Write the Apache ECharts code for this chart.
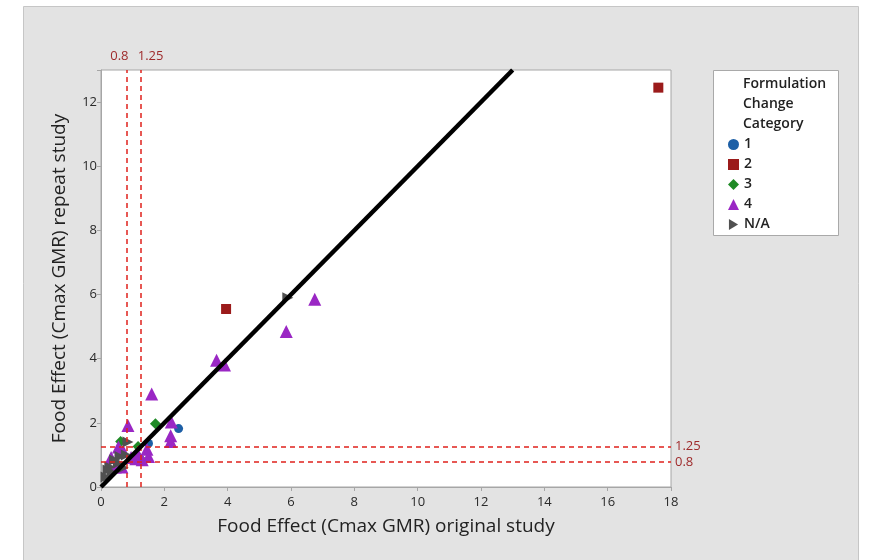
<!DOCTYPE html>
<html>
<head>
<meta charset="utf-8">
<script src="https://cdn.jsdelivr.net/npm/echarts@6/dist/echarts.min.js"></script>
<style>
  html, body { margin: 0; padding: 0; background: #ffffff; }
  #chart { width: 869px; height: 560px; }
</style>
</head>
<body>
<div id="chart"></div>
<script>
// Food effect Cmax GMR: original study vs repeat study, by formulation change category
const categoryNames = ['1', '2', '3', '4', 'N/A'];

const cat1Points = [[2.45, 1.82], [1.5, 1.36]];
const cat2Points = [[17.6, 12.45], [3.95, 5.55]];
const cat3Points = [[1.72, 1.97], [0.62, 1.42], [1.17, 1.26], [1.23, 0.9]];
const cat4Points = [
  [6.75, 5.85], [5.85, 4.85], [3.65, 3.95], [3.9, 3.8], [1.6, 2.9],
  [0.85, 1.92], [2.22, 2.03], [2.2, 1.6], [2.2, 1.42], [0.55, 1.25],
  [0.7, 1.12], [1.15, 1.05], [1.45, 1.18], [1.5, 0.95], [1.3, 0.85],
  [0.95, 0.92], [0.32, 0.92], [0.45, 0.62], [0.66, 0.62], [1.1, 0.88]
];
const naPoints = [
  [5.9, 5.9], [0.85, 1.4], [0.8, 1.0], [0.43, 0.84], [0.22, 0.53],
  [0.16, 0.31], [0.28, 0.62], [0.7, 0.6], [0.35, 0.45], [0.55, 0.75],
  [0.6, 0.95]
];

// bioequivalence limits and identity line
const limitValues = [0.8, 1.25];
const identityLine = [[0, 0], [13, 13]];

const xTicks = { min: 0, max: 18, interval: 2 };
const yTicks = { min: 0, max: 13, interval: 2 };

const FONT = '"Open Sans", "Noto Sans", sans-serif';
const colors = ['#1d5fa6', '#9b1b1b', '#1f8a26', '#9a27c4', '#505050'];
const arrowPath = 'path://M0,0 L10,6 L0,12 Z';
const symbols = ['circle', 'rect', 'diamond', 'triangle', arrowPath];
const sizes = [9, 10, 11, 13, 11];
const pointSets = [cat1Points, cat2Points, cat3Points, cat4Points, naPoints];

const limitColor = '#e0221c';
const limitLabelColor = '#9e2a2b';

const scatterSeries = categoryNames.map((name, i) => ({
  name: name,
  type: 'scatter',
  data: pointSets[i],
  symbol: symbols[i],
  symbolSize: sizes[i],
  itemStyle: { color: colors[i], opacity: 1 },
  z: 3
}));

const chart = echarts.init(document.getElementById('chart'), null, { renderer: 'canvas' });

chart.setOption({
  animation: false,
  backgroundColor: '#ffffff',
  textStyle: { fontFamily: FONT },
  graphic: [
    {
      type: 'rect', z: -10, silent: true,
      shape: { x: 23.5, y: 6.5, width: 835, height: 580 },
      style: { fill: '#e3e3e3', stroke: '#c6c6c6', lineWidth: 1 }
    },
    {
      type: 'rect', z: 1, silent: true,
      shape: { x: 713.5, y: 70.5, width: 125, height: 165 },
      style: { fill: '#ffffff', stroke: '#a9a9a9', lineWidth: 1 }
    },
    {
      type: 'text', z: 2, left: 743, top: 77,
      style: { text: 'Formulation', font: '600 14px ' + FONT, fill: '#222222' }
    },
    {
      type: 'text', z: 2, left: 743, top: 97,
      style: { text: 'Change', font: '600 14px ' + FONT, fill: '#222222' }
    },
    {
      type: 'text', z: 2, left: 743, top: 117,
      style: { text: 'Category', font: '600 14px ' + FONT, fill: '#222222' }
    }
  ],
  legend: {
    orient: 'vertical',
    left: 723,
    top: 130,
    itemWidth: 11,
    itemHeight: 11,
    itemGap: 1,
    z: 3,
    data: categoryNames.map((n, i) => ({ name: n, icon: symbols[i] })),
    textStyle: { fontFamily: FONT, fontSize: 14, fontWeight: 600, color: '#222222', lineHeight: 19 }
  },
  grid: {
    left: 101, top: 70, right: 198, bottom: 73,
    show: true, backgroundColor: '#ffffff', borderColor: '#a6a6a6', borderWidth: 1
  },
  xAxis: {
    type: 'value',
    min: xTicks.min, max: xTicks.max, interval: xTicks.interval,
    name: 'Food Effect (Cmax GMR) original study',
    nameLocation: 'middle', nameGap: 30,
    nameTextStyle: { fontFamily: FONT, fontSize: 19, color: '#222222' },
    axisLine: { show: true, lineStyle: { color: '#a6a6a6' } },
    axisTick: { show: true, length: 4, lineStyle: { color: '#a6a6a6' } },
    axisLabel: { fontFamily: FONT, fontSize: 13, color: '#2a2a2a', margin: 9 },
    splitLine: { show: false }
  },
  yAxis: {
    type: 'value',
    min: yTicks.min, max: yTicks.max, interval: yTicks.interval,
    name: 'Food Effect (Cmax GMR) repeat study',
    nameLocation: 'middle', nameGap: 32,
    nameTextStyle: { fontFamily: FONT, fontSize: 19, color: '#222222' },
    axisLine: { show: true, lineStyle: { color: '#a6a6a6' } },
    axisTick: { show: true, length: 4, lineStyle: { color: '#a6a6a6' } },
    axisLabel: {
      fontFamily: FONT, fontSize: 13, color: '#2a2a2a', margin: 4,
      formatter: v => (v % 2 === 0 ? String(v) : '')
    },
    splitLine: { show: false }
  },
  series: [
    {
      name: 'limits',
      type: 'line',
      data: [],
      silent: true,
      markLine: {
        symbol: ['none', 'none'],
        silent: true,
        lineStyle: { color: limitColor, type: [5, 4], width: 1.5 },
        label: {
          show: true, position: 'end', color: limitLabelColor,
          fontFamily: FONT, fontSize: 13, formatter: '{b}'
        },
        data: [
          { name: String(limitValues[0]), xAxis: limitValues[0], label: { offset: [-7, -2] } },
          { name: String(limitValues[1]), xAxis: limitValues[1], label: { offset: [10, -2] } },
          { name: String(limitValues[1]), yAxis: limitValues[1], label: { offset: [-1, -1] } },
          { name: String(limitValues[0]), yAxis: limitValues[0], label: { offset: [-1, 1] } }
        ]
      },
      z: 2
    },
    ...scatterSeries,
    {
      name: 'identity',
      type: 'line',
      data: identityLine,
      symbol: 'none',
      silent: true,
      lineStyle: { color: '#000000', width: 4.5 },
      z: 5
    }
  ]
});
</script>
</body>
</html>
